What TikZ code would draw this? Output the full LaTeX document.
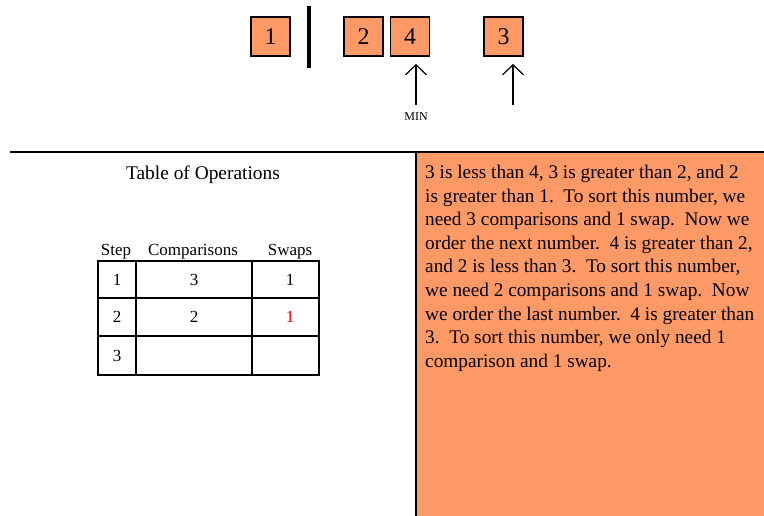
\documentclass[tikz,border=0pt]{standalone}
\usepackage{fontspec}
\setmainfont{Liberation Serif}
\usetikzlibrary{arrows.meta}
\definecolor{boxorange}{RGB}{255,153,102}
\begin{document}
\begin{tikzpicture}[x=1pt,y=-1pt,
  numbox/.style={draw=black,fill=boxorange,line width=1.2pt,minimum width=39pt,minimum height=39pt,inner sep=0pt,font=\fontsize{24}{28}\selectfont},
  pointer/.style={line width=1.2pt,-{Straight Barb[length=10pt,width=21pt]}},
  cell/.style={font=\fontsize{17}{20}\selectfont},
  grid/.style={line width=1.5pt}]
\useasboundingbox (0,0) rectangle (764,516);
% number boxes
\node[numbox] (b1) at (270.5,36.5) {1};
\node[numbox] (b2) at (363.5,36.5) {2};
\node[numbox] (b4) at (410,36.5) {4};
\node[numbox] (b3) at (503.5,36.5) {3};
% sorted / unsorted divider
\draw[line width=3.5pt] (309,6) -- (309,68);
% pointers
\coordinate (p4) at (416,105);
\coordinate (p3) at (513,105);
\draw[pointer] (p4) -- (416,64);
\draw[pointer] (p3) -- (513,64);
\node[font=\fontsize{12}{14}\selectfont] (min) at (416,117) {MIN};
% explanation panel
\fill[boxorange] (416,152) rectangle (764,516);
\draw[line width=1.2pt] (10,152) -- (764,152);
\draw[line width=1.5pt] (416,152) -- (416,516);
\node[anchor=north west,align=left,inner sep=0pt,font=\fontsize{19.3}{23.6}\selectfont] (txt) at (425,165) {3 is less than 4, 3 is greater than 2, and 2\\
is greater than 1.\ \ To sort this number, we\\
need 3 comparisons and 1 swap.\ \ Now we\\
order the next number.\ \ 4 is greater than 2,\\
and 2 is less than 3.\ \ To sort this number,\\
we need 2 comparisons and 1 swap.\ \ Now\\
we order the last number.\ \ 4 is greater than\\
3.\ \ To sort this number, we only need 1\\
comparison and 1 swap.};
% table of operations
\node[font=\fontsize{19.4}{23}\selectfont] (title) at (203,175) {Table of Operations};
\node[cell] (hstep) at (116,252) {Step};
\node[cell] (hcmp) at (193,252) {Comparisons};
\node[cell] (hswp) at (290,252) {Swaps};
\draw[grid] (98,261) rectangle (319,375);
\draw[grid] (136,261) -- (136,375);
\draw[grid] (252,261) -- (252,375);
\draw[grid] (98,298) -- (319,298);
\draw[grid] (98,336) -- (319,336);
\node[cell] (s1) at (117,279.5) {1};
\node[cell] (c1) at (194,279.5) {3};
\node[cell] (w1) at (290,279.5) {1};
\node[cell] (s2) at (117,317) {2};
\node[cell] (c2) at (194,317) {2};
\node[cell,text=red] (w2) at (290,317) {1};
\node[cell] (s3) at (117,355.5) {3};
\end{tikzpicture}
\end{document}
